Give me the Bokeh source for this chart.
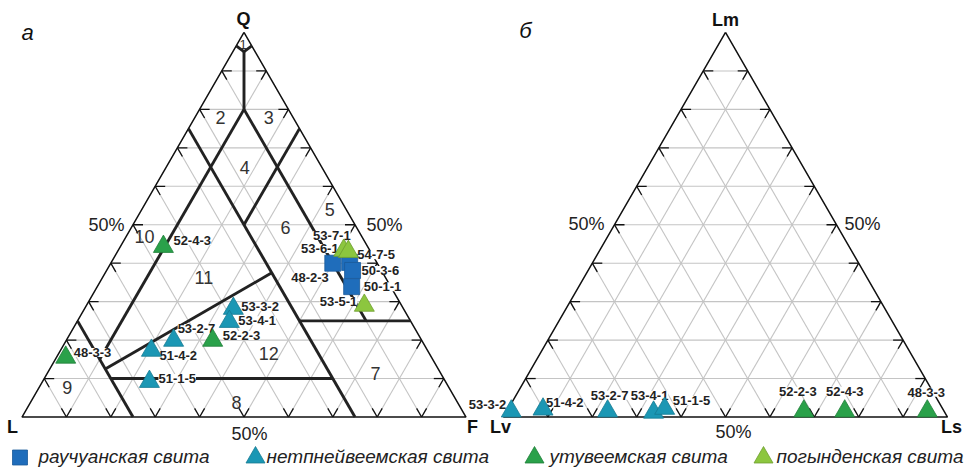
import math
from bokeh.plotting import figure
from bokeh.models import Range1d
from bokeh.embed import file_html
from bokeh.resources import INLINE
from bokeh.core.properties import value

# ---------------- data ----------------
# Diagram "а": Q - F - L  (%)
rauch_names = ["48-2-3", "53-6-1", "50-3-6", "50-1-1"]
rauch_Q = [40.0, 40.2, 38.1, 33.9]
rauch_F = [50.0, 53.7, 55.4, 57.3]
rauch_L = [10.0, 6.1, 6.5, 8.8]

netp_names = ["53-3-2", "53-4-1", "53-2-7", "51-4-2", "51-1-5"]
netp_Q = [28.2, 24.8, 19.9, 17.3, 9.2]
netp_F = [33.5, 34.3, 24.2, 20.5, 24.1]
netp_L = [38.3, 40.9, 55.9, 62.2, 66.7]

utuv_names = ["52-4-3", "52-2-3", "48-3-3"]
utuv_Q = [44.3, 19.9, 15.5]
utuv_F = [9.7, 33.0, 2.1]
utuv_L = [46.0, 47.1, 82.4]

pogyn_names = ["53-7-1", "54-7-5", "53-5-1"]
pogyn_Q = [43.3, 43.0, 29.0]
pogyn_F = [50.8, 52.0, 62.6]
pogyn_L = [5.9, 5.0, 8.4]

# Diagram "б": Lm - Ls - Lv  (%)
netp_b_names = ["53-3-2", "51-4-2", "53-2-7", "53-4-1", "51-1-5"]
netp_Lm = [1.5, 2.0, 1.5, 1.2, 2.2]
netp_Ls = [1.0, 7.9, 22.7, 33.2, 35.2]
netp_Lv = [97.5, 90.1, 75.8, 65.6, 62.6]

utuv_b_names = ["52-2-3", "52-4-3", "48-3-3"]
utuv_Lm = [1.5, 1.5, 1.5]
utuv_Ls = [66.9, 76.1, 94.7]
utuv_Lv = [31.6, 22.4, 3.8]

grid_steps = [10, 20, 30, 40, 50, 60, 70, 80, 90]

# classification field boundaries on diagram "а" (Q, F, L)
boundaries = [
    [(96.5, 0, 3.5), (95, 2.5, 2.5), (96.5, 3.5, 0)],
    [(95, 2.5, 2.5), (80, 10, 10)],
    [(80, 10, 10), (15, 10, 75)],
    [(80, 10, 10), (25, 65, 10)],
    [(75, 0, 25), (0, 75, 25)],
    [(25, 0, 75), (0, 25, 75)],
    [(75, 25, 0), (50, 25, 25)],
    [(12.5, 12.5, 75), (37.5, 37.5, 25)],
    [(10, 15, 75), (10, 65, 25)],
    [(25, 50, 25), (25, 75, 0)],
]
field_numbers = ["1", "2", "3", "4", "5", "6", "7", "8", "9", "10", "11", "12"]

legend_labels = ["раучуанская свита", "нетпнейвеемская свита",
                 "утувеемская свита", "погынденская свита"]

# ---------------- layout / style ----------------
C_BLUE = "#1f6dbb"
C_TEAL = "#1b97b4"
C_GREEN = "#2aa14a"
C_LGREEN = "#8cc63f"
FONT = "Liberation Sans"

W = 444.0
H = W * math.sqrt(3) / 2
ORIG_A = (21.5, 416.5)
ORIG_B = (503.0, 416.5)


def tern(origin, top, right, left):
    s = top + right + left
    t, r = top / s, right / s
    return origin[0] + (r + t / 2) * W, origin[1] - t * H


p = figure(width=966, height=467, output_backend="svg", toolbar_location=None,
           x_axis_type=None, y_axis_type=None, title=None,
           x_range=Range1d(0, 966), y_range=Range1d(467, 0),
           min_border=0, min_border_left=0, min_border_right=0,
           min_border_top=0, min_border_bottom=0)
p.outline_line_color = None
p.background_fill_color = "white"

# grid + ticks + outline
gx, gy, tx, ty = [], [], [], []
TL = 10.0
S = math.sqrt(3) / 2
for o in (ORIG_A, ORIG_B):
    for k in grid_steps:
        for a, b in (((k, 0, 100 - k), (k, 100 - k, 0)),
                     ((0, k, 100 - k), (100 - k, k, 0)),
                     ((0, 100 - k, k), (100 - k, 0, k))):
            x1, y1 = tern(o, *a)
            x2, y2 = tern(o, *b)
            gx.append([x1, x2]); gy.append([y1, y2])
        px, py = tern(o, k, 0, 100 - k)
        for dx, dy in ((1, 0), (0.5, S)):
            tx.append([px, px + TL * dx]); ty.append([py, py + TL * dy])
        px, py = tern(o, k, 100 - k, 0)
        for dx, dy in ((-1, 0), (-0.5, S)):
            tx.append([px, px + TL * dx]); ty.append([py, py + TL * dy])
        px, py = tern(o, 0, k, 100 - k)
        for dx, dy in ((0.5, -S), (-0.5, -S)):
            tx.append([px, px + TL * dx]); ty.append([py, py + TL * dy])

p.multi_line(gx, gy, line_color="#c4c4c4", line_width=1.1)
p.multi_line(tx, ty, line_color="#111111", line_width=1.3)

ox, oy = [], []
for o in (ORIG_A, ORIG_B):
    pts = [tern(o, 100, 0, 0), tern(o, 0, 100, 0), tern(o, 0, 0, 100), tern(o, 100, 0, 0)]
    ox.append([q[0] for q in pts]); oy.append([q[1] for q in pts])
p.multi_line(ox, oy, line_color="#111111", line_width=1.5)

bx, by = [], []
for line in boundaries:
    pts = [tern(ORIG_A, *c) for c in line]
    bx.append([q[0] for q in pts]); by.append([q[1] for q in pts])
p.multi_line(bx, by, line_color="#222222", line_width=2.9, line_join="miter")

# field numbers (layout positions)
field_pos = {"1": (242.7, 44, 13), "2": (220, 117, 18), "3": (268.3, 117, 18),
             "4": (244.3, 167, 18), "5": (329.3, 209, 18), "6": (285, 227, 18),
             "7": (375, 373, 18), "8": (236, 402, 18), "9": (66.7, 387, 18),
             "10": (144, 236, 18), "11": (203.3, 277, 18), "12": (268.3, 353, 18)}
for n in field_numbers:
    x, y, fs = field_pos[n]
    p.text([x], [y], text=[n], text_font=value(FONT), text_font_size=f"{fs}px",
           text_color="#333333", text_align="center", text_baseline="middle")

# sample labels (offsets are layout)
lab_a = {"53-7-1": ("right", 7, -15), "54-7-5": ("left", 9, 3), "53-5-1": ("right", -7, -4),
         "52-4-3": ("left", 10, -6), "53-3-2": ("left", 8, -2), "53-4-1": ("left", 9, -1),
         "53-2-7": ("left", 4, -12), "52-2-3": ("left", 10, -5), "51-4-2": ("left", 8, 5),
         "51-1-5": ("left", 9, -3), "48-3-3": ("left", 8, -5),
         "48-2-3": ("right", -4, 14), "53-6-1": ("right", -11, -14),
         "50-3-6": ("left", 9, 0), "50-1-1": ("left", 12, 0)}
lab_b = {"53-3-2": ("right", -5, -7), "51-4-2": ("left", 3, -7), "53-2-7": ("center", 2, -16),
         "53-4-1": ("center", -4, -17), "51-1-5": ("left", 8, -8), "52-2-3": ("center", -6, -20),
         "52-4-3": ("center", 0, -20), "48-3-3": ("center", -1, -19)}

series_a = [
    (rauch_names, rauch_Q, rauch_F, rauch_L, "square", 16, C_BLUE, "#1a5a9a"),
    (netp_names, netp_Q, netp_F, netp_L, "triangle", 20, C_TEAL, "#167a92"),
    (utuv_names, utuv_Q, utuv_F, utuv_L, "triangle", 20, C_GREEN, "#1f7d38"),
    (pogyn_names, pogyn_Q, pogyn_F, pogyn_L, "triangle", 20, C_LGREEN, "#6f9e30"),
]
series_b = [
    (netp_b_names, netp_Lm, netp_Ls, netp_Lv, "triangle", 20, C_TEAL, "#167a92"),
    (utuv_b_names, utuv_Lm, utuv_Ls, utuv_Lv, "triangle", 20, C_GREEN, "#1f7d38"),
]

label_rows = {"left": ([], [], []), "right": ([], [], []), "center": ([], [], [])}
marker_calls = []
for origin, series, labs in ((ORIG_A, series_a, lab_a), (ORIG_B, series_b, lab_b)):
    for names, top, right, left, mk, sz, fc, lc in series:
        xs, ys = [], []
        for n, t, r, l in zip(names, top, right, left):
            x, y = tern(origin, t, r, l)
            xs.append(x); ys.append(y)
            al, dx, dy = labs[n]
            label_rows[al][0].append(x + dx)
            label_rows[al][1].append(y + dy)
            label_rows[al][2].append(n)
        marker_calls.append((xs, ys, mk, sz, fc, lc))

for al, (lx, ly, lt) in label_rows.items():
    p.text(lx, ly, text=lt, text_font=value(FONT), text_font_size="13px",
           text_font_style="bold", text_color="#222222", text_align=al,
           text_baseline="middle", background_fill_color="white", padding=0)

for xs, ys, mk, sz, fc, lc in marker_calls:
    p.scatter(xs, ys, marker=mk, size=sz, fill_color=fc, line_color=lc, line_width=0.8)

# vertex and axis labels
for t, x, y in (("Q", 243, 18), ("L", 12, 426), ("F", 472, 426),
                ("Lm", 725, 19), ("Lv", 500, 426), ("Ls", 951, 426)):
    p.text([x], [y], text=[t], text_font=value(FONT), text_font_size="18px",
           text_font_style="bold", text_color="#111111", text_align="center",
           text_baseline="middle")
for x, y in ((106, 224), (384, 224), (249, 433), (586, 223), (862, 223), (733, 431)):
    p.text([x], [y], text=["50%"], text_font=value(FONT), text_font_size="18px",
           text_color="#222222", text_align="center", text_baseline="middle")
for t, x, y in (("а", 27, 32), ("б", 525, 30)):
    p.text([x], [y], text=[t], text_font=value(FONT), text_font_size="22px",
           text_font_style="italic", text_color="#111111", text_align="center",
           text_baseline="middle")

# legend
leg_marks = [("square", 15, C_BLUE, "#1a5a9a", 19.5), ("triangle", 19, C_TEAL, "#167a92", 255),
             ("triangle", 19, C_GREEN, "#1f7d38", 534), ("triangle", 19, C_LGREEN, "#6f9e30", 763)]
leg_text_x = [38, 266, 549, 776]
for (mk, sz, fc, lc, mx), lbl, txx in zip(leg_marks, legend_labels, leg_text_x):
    p.scatter([mx], [457], marker=mk, size=sz, fill_color=fc, line_color=lc, line_width=0.8)
    p.text([txx], [456], text=[lbl], text_font=value(FONT), text_font_size="19px",
           text_font_style="italic", text_color="#222222", text_align="left",
           text_baseline="middle")

open("out.html", "w").write(file_html(p, INLINE))
